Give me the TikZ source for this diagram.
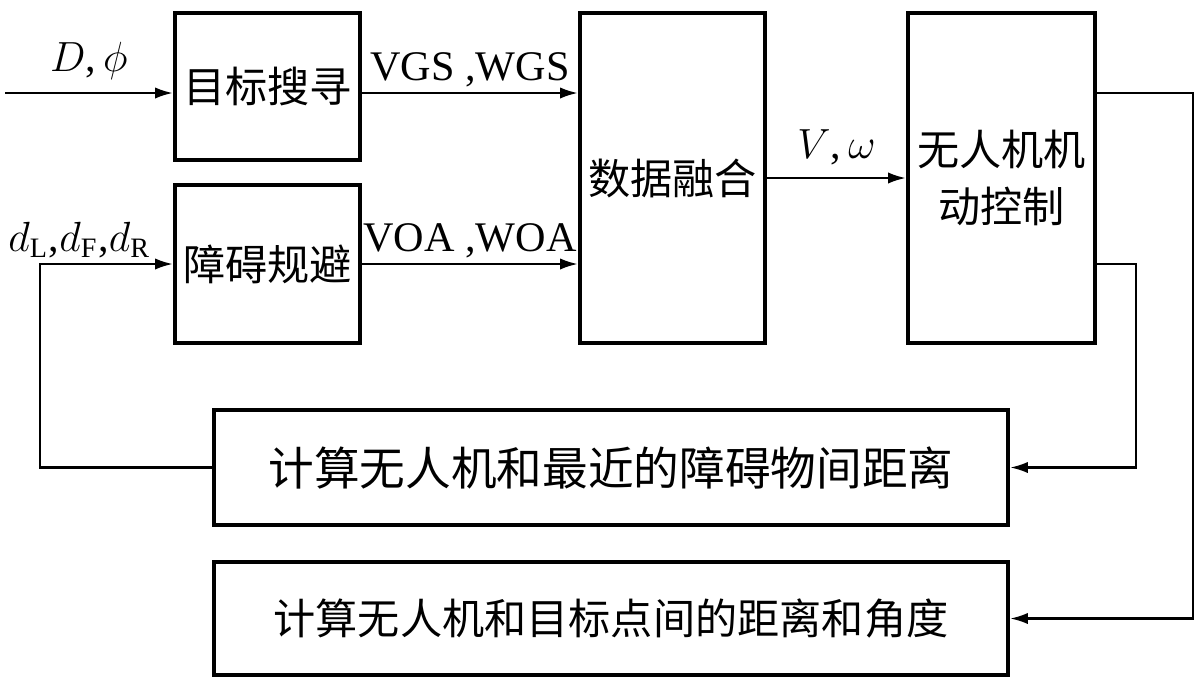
\documentclass[tikz,border=0pt]{standalone}
\usepackage{fontspec}
\setmainfont{Liberation Serif}
\newfontfamily\cjk{Noto Sans CJK SC}
\usetikzlibrary{arrows.meta}

\begin{document}
\begin{tikzpicture}[
		blk/.style={draw, line width=1.3pt, inner sep=0pt, font=\cjk\fontsize{12}{16}\selectfont, align=center},
		flow/.style={line width=0.6pt, -{Latex[length=5pt,width=3.2pt]}},
		lbl/.style={font=\fontsize{12}{14}\selectfont, inner sep=1.5pt}
	]
			%%%%% START %%%%%
			
			\useasboundingbox (0, 0) rectangle (12, 6.8);
			
			% blocks
			\node[blk, minimum width=1.85cm, minimum height=1.47cm] (search) at (2.675, 5.935) {\raisebox{-4pt}{目标搜寻}};
			\node[blk, minimum width=1.85cm, minimum height=1.58cm] (avoid) at (2.675, 4.16) {障碍规避};
			\node[blk, minimum width=1.85cm, minimum height=3.30cm] (fusion) at (6.725, 5.02) {数据融合};
			\node[blk, minimum width=1.87cm, minimum height=3.30cm] (ctrl) at (10.015, 5.02) {无人机机\\动控制};
			\node[blk, minimum width=7.94cm, minimum height=1.15cm, font=\cjk\fontsize{13}{15}\selectfont] (obst) at (6.11, 2.125) {计算无人机和最近的障碍物间距离};
			\node[blk, minimum width=7.94cm, minimum height=1.13cm] (goal) at (6.11, 0.615) {计算无人机和目标点间的距离和角度};
			
			\coordinate (inD) at (0.05, 5.87);
			
			% forward path
			\draw[flow] (inD) -- node[lbl, above, yshift=2pt] {$D$,\,$\phi$} (inD -| search.west);
			\draw[flow] (search.east |- inD) -- node[lbl, above] {VGS ,WGS} (fusion.west |- inD);
			\draw[flow] (avoid.east) -- node[lbl, above] {VOA ,WOA} (fusion.west |- avoid.east);
			\draw[flow] (fusion.east) -- node[lbl, above, yshift=2pt] {$V$,\,$\omega$} (ctrl.west);
			
			% feedback
			\draw[flow] (ctrl.east |- inD) -- ++(0.96, 0) |- (goal.east);
			\draw[flow] (ctrl.east |- avoid.east) -- ++(0.39, 0) |- (obst.east);
			\draw[flow] (obst.west) -| ([xshift=-1.33cm]avoid.west) -- node[lbl, above, pos=0.3] {$d_{\mathrm{L}}$,$d_{\mathrm{F}}$,$d_{\mathrm{R}}$} (avoid.west);
			
			%%%%% END %%%%%
		\end{tikzpicture}
\end{document}
